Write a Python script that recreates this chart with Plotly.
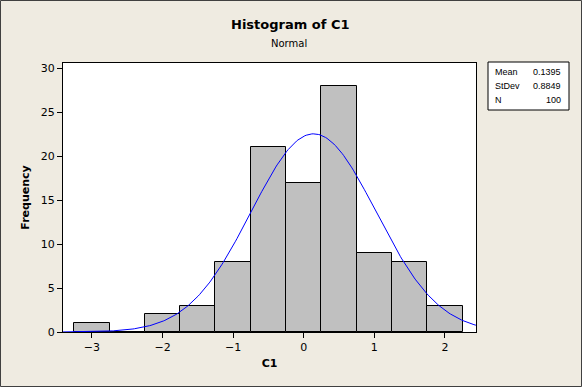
import numpy as np
import plotly.graph_objects as go

bin_centers = [-3.0, -2.5, -2.0, -1.5, -1.0, -0.5, 0.0, 0.5, 1.0, 1.5, 2.0]
frequencies = [1, 0, 2, 3, 8, 21, 17, 28, 9, 8, 3]
bin_width = 0.5
mean_val = 0.1395
stdev_val = 0.8849
n_val = 100
x_ticks = [-3, -2, -1, 0, 1, 2]
y_ticks = [0, 5, 10, 15, 20, 25, 30]

FONT = "DejaVu Sans"
BG = "#EFEBE1"

xs = np.linspace(-3.42, 2.45, 300)
ys = n_val * bin_width / (stdev_val * np.sqrt(2 * np.pi)) * np.exp(-0.5 * ((xs - mean_val) / stdev_val) ** 2)

fig = go.Figure()
fig.add_trace(go.Bar(x=bin_centers, y=frequencies, width=bin_width,
                     marker=dict(color="#C0C0C0", line=dict(color="black", width=1)),
                     hoverinfo="x+y"))
fig.add_trace(go.Scatter(x=xs, y=ys, mode="lines", line=dict(color="#0000FF", width=1)))

L, R, T, B = 63, 106, 63, 55
W, H = 582, 387
pw, ph = W - L - R, H - T - B

def px(x):
    return (x - L) / pw

def py(y):
    return (H - B - y) / ph

fig.update_layout(
    width=W, height=H,
    margin=dict(l=L, r=R, t=T, b=B),
    paper_bgcolor=BG, plot_bgcolor="white",
    showlegend=False, bargap=0,
    font=dict(family=FONT, size=11, color="black"),
    xaxis=dict(range=[-3.41, 2.44], tickvals=x_ticks, ticks="outside", ticklen=5,
               tickcolor="black", showgrid=False, zeroline=False,
               showline=True, linecolor="black", mirror=True, linewidth=1,
               title=dict(text="<b>C1</b>", font=dict(family=FONT, size=11), standoff=6)),
    yaxis=dict(range=[0, 30.6], tickvals=y_ticks, ticks="outside", ticklen=5,
               tickcolor="black", showgrid=False, zeroline=False,
               showline=True, linecolor="black", mirror=True, linewidth=1,
               title=dict(text="<b>Frequency</b>", font=dict(family=FONT, size=11), standoff=8)),
)

# titles
fig.add_annotation(xref="paper", yref="paper", x=px(290), y=py(24), text="<b>Histogram of C1</b>",
                   showarrow=False, xanchor="center", yanchor="middle",
                   font=dict(family=FONT, size=13, color="black"))
fig.add_annotation(xref="paper", yref="paper", x=px(289), y=py(43), text="Normal",
                   showarrow=False, xanchor="center", yanchor="middle",
                   font=dict(family=FONT, size=10, color="black"))

# stats box
BOXFONT = "Liberation Sans"
fig.add_shape(type="rect", xref="paper", yref="paper",
              x0=px(488), x1=px(569), y0=py(110), y1=py(62),
              line=dict(color="black", width=1), fillcolor="white")
rows = [("Mean", f"{mean_val:.4f}", 72), ("StDev", f"{stdev_val:.4f}", 86), ("N", f"{n_val}", 100)]
for label, val, yy in rows:
    fig.add_annotation(xref="paper", yref="paper", x=px(493), y=py(yy), text=label,
                       showarrow=False, xanchor="left", yanchor="middle",
                       font=dict(family=BOXFONT, size=9, color="black"))
    fig.add_annotation(xref="paper", yref="paper", x=px(563), y=py(yy), text=val,
                       showarrow=False, xanchor="right", yanchor="middle",
                       font=dict(family=BOXFONT, size=9, color="black"))

# outer border
fig.add_shape(type="rect", xref="paper", yref="paper",
              x0=px(0.5), x1=px(W - 0.5), y0=py(H - 0.5), y1=py(0.5),
              line=dict(color="#404040", width=1), layer="below")

fig.write_html("out.html", config={"displayModeBar": False},
               post_script="document.body.style.margin='0';document.body.style.overflow='hidden';")
